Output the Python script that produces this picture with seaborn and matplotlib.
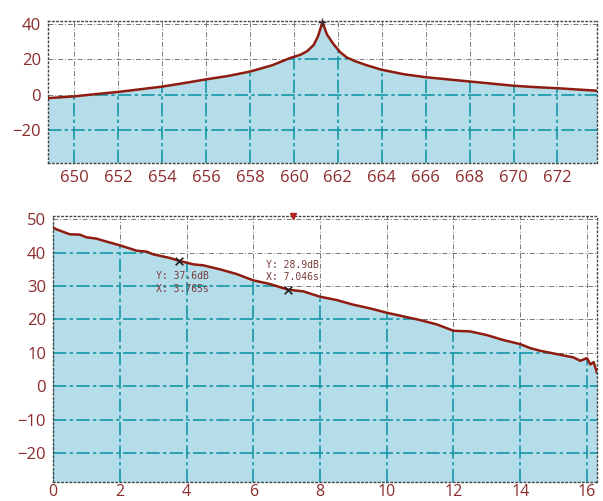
import matplotlib
matplotlib.use("Agg")
import matplotlib.pyplot as plt
import seaborn as sns
import numpy as np

# --- data ---
# top panel: resonance spectrum
freq = [648.8, 650, 651, 652, 653, 654, 655, 656, 657, 658, 659, 659.8, 660.3,
        660.6, 660.9, 661.1, 661.3, 661.5, 661.8, 662.1, 662.4, 662.8, 663.3,
        664, 665, 666, 667, 668, 669, 670, 671, 672, 673, 673.8]
spec_db = [-2, -1, 0.3, 1.5, 3, 4.5, 6.5, 8.6, 10.5, 13, 16.5, 20.5, 22.5,
           24.5, 28, 33, 41, 34, 28.5, 24, 21, 18.8, 16.6,
           14, 11.5, 9.8, 8.6, 7.4, 6.2, 5, 4.2, 3.6, 2.8, 2.2]
top_xticks = [650, 652, 654, 656, 658, 660, 662, 664, 666, 668, 670, 672]
top_yticks = [-20, 0, 20, 40]

# bottom panel: decay over time
t_s = [0, 0.1, 0.5, 0.8, 1.0, 1.3, 1.5, 2.0, 2.5, 2.8, 3.0, 3.5, 3.765, 4.2, 4.5,
       5.0, 5.5, 6.0, 6.5, 7.046, 7.5, 8.0, 8.5, 9.0, 9.5, 10.0, 10.5, 11.0,
       11.5, 12.0, 12.5, 13.0, 13.5, 14.0, 14.3, 14.6, 15.0, 15.3, 15.6, 15.8,
       16.0, 16.1, 16.2, 16.3]
decay_db = [47.5, 47, 45.5, 45.4, 44.6, 44.2, 43.6, 42.2, 40.6, 40.3, 39.5, 38.4,
            37.6, 36.5, 36.2, 35, 33.6, 31.7, 30.6, 28.9, 28.4, 26.8, 25.8, 24.4,
            23.3, 22.0, 20.9, 19.8, 18.5, 16.6, 16.4, 15.3, 13.8, 12.6, 11.4,
            10.6, 9.8, 9.2, 8.6, 7.6, 8.4, 6.5, 7.2, 4.0]
bot_xticks = [0, 2, 4, 6, 8, 10, 12, 14, 16]
bot_yticks = [-20, -10, 0, 10, 20, 30, 40, 50]

cursor_t = [3.765, 7.046]
cursor_db = [37.6, 28.9]
cursor_text = ["Y: 37.6dB\nX: 3.765s", "Y: 28.9dB\nX: 7.046s"]

sns.set_style("white")
plt.rcParams['font.family'] = ['Open Sans', 'DejaVu Sans']

FILL = '#b4dde9'
LINE = '#8e1c10'
LABEL = '#8c2b2b'
GRID_W = '#7a7676'
GRID_B = '#1497a6'


def panel(ax, x, y, xticks, yticks, xlim, ylim):
    ax.set_xlim(*xlim)
    ax.set_ylim(*ylim)
    ax.set_xticks(xticks)
    ax.set_yticks(yticks)
    # grid in white region
    for v in xticks:
        ax.axvline(v, color=GRID_W, lw=0.7, ls=(0, (5, 2, 1, 2)), zorder=0)
    for v in yticks:
        ax.axhline(v, color=GRID_W, lw=0.7, ls=(0, (5, 2, 1, 2)), zorder=0)
    fill = ax.fill_between(x, y, ylim[0], color=FILL, lw=0, zorder=1)
    clip = fill.get_paths()[0]
    # teal grid inside the filled area
    for v in xticks:
        ln = ax.axvline(v, color=GRID_B, lw=1.2, ls=(0, (8, 2, 2, 2)), zorder=2)
        ln.set_clip_path(clip, fill.get_transform())
    for v in yticks:
        ln = ax.axhline(v, color=GRID_B, lw=1.2, ls=(0, (8, 2, 2, 2)), zorder=2)
        ln.set_clip_path(clip, fill.get_transform())
    sns.lineplot(x=x, y=y, ax=ax, color=LINE, lw=1.8, zorder=4, sort=False)
    for s in ax.spines.values():
        s.set_linestyle((0, (1, 2)))
        s.set_color('#444444')
        s.set_linewidth(1.0)
    ax.tick_params(axis='both', which='major', length=0, labelsize=12,
                   labelcolor=LABEL, pad=5)
    ax.set_xlabel('')
    ax.set_ylabel('')


fig = plt.figure(figsize=(6.03, 5.01), dpi=100)
fig.patch.set_facecolor('white')

ax1 = fig.add_axes([0.0796, 0.675, 0.9104, 0.283])
panel(ax1, freq, spec_db, top_xticks, top_yticks, (648.8, 673.8), (-38.5, 41.5))
ax1.plot([661.3], [41], marker='+', color='#333333', ms=6, mew=1, zorder=5,
         clip_on=False)

ax2 = fig.add_axes([0.088, 0.038, 0.902, 0.531])
panel(ax2, t_s, decay_db, bot_xticks, bot_yticks, (0.1, 16.3), (-28.7, 51))
ax2.tick_params(axis='x', pad=1.5, labelsize=11.5)
sns.scatterplot(x=cursor_t, y=cursor_db, ax=ax2, marker='x', color='#222222',
                s=30, linewidth=1.2, zorder=5)
ax2.text(3.07, 31.1, cursor_text[0], family='DejaVu Sans Mono', fontsize=7,
         color='#7a3a3a', va='center', linespacing=1.3, zorder=6)
ax2.text(6.37, 34.5, cursor_text[1], family='DejaVu Sans Mono', fontsize=7,
         color='#7a3a3a', va='center', linespacing=1.3, zorder=6)
ax2.plot([7.2], [51], marker='v', color='#b02020', ms=4, clip_on=False, zorder=6)

fig.savefig('out.png', dpi=100)
